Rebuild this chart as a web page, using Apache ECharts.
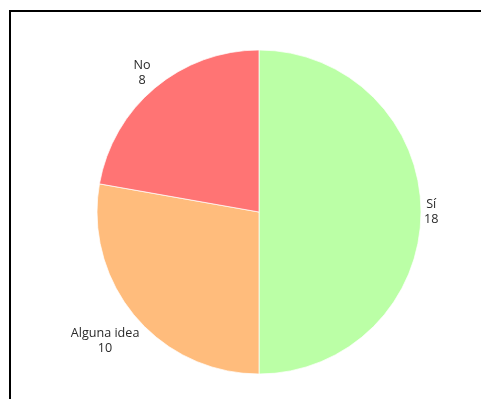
<!DOCTYPE html>
<html>
<head>
<meta charset="utf-8">
<script src="https://cdn.jsdelivr.net/npm/echarts@6/dist/echarts.min.js"></script>
<style>
  html, body { margin: 0; padding: 0; background: #fff; overflow: hidden; }
  #frame {
    position: absolute; left: 9px; top: 10px;
    width: 520px; height: 440px;
    border: 2px solid #000; box-sizing: border-box;
  }
  #chart { position: absolute; left: 0; top: 0; width: 100%; height: 100%; }
</style>
</head>
<body>
<div id="frame"><div id="chart"></div></div>
<script>
// Answers and how many people gave each one
const categories = ['Sí', 'Alguna idea', 'No'];
const counts = [18, 10, 8];
const colors = ['#bbffa6', '#ffbc7c', '#ff7474'];

const pieCenter = [248, 200];
const pieRadius = 162;
const labelGap = 3;

const total = counts.reduce((a, b) => a + b, 0);
// mid angle of each slice, clockwise from 12 o'clock
const midAngles = [];
let acc = 0;
counts.forEach(v => {
  midAngles.push((acc + v / 2) / total * 2 * Math.PI);
  acc += v;
});

const chart = echarts.init(document.getElementById('chart'), null, { renderer: 'canvas' });
chart.setOption({
  animation: false,
  series: [{
    type: 'pie',
    center: pieCenter,
    radius: pieRadius,
    startAngle: 90,
    clockwise: true,
    data: categories.map((name, i) => ({
      name: name,
      value: counts[i],
      itemStyle: { color: colors[i] }
    })),
    itemStyle: { borderColor: 'rgba(255,255,255,0.7)', borderWidth: 1 },
    label: {
      show: true,
      position: 'inside',
      formatter: '{b}\n{c}',
      fontFamily: 'Open Sans',
      fontSize: 12.6,
      lineHeight: 15,
      color: '#2a2a2a',
      align: 'center'
    },
    labelLine: { show: false },
    emphasis: { disabled: true },
    labelLayout: function (params) {
      // push each label outward along its slice's bisector until its box clears the rim
      const a = midAngles[params.dataIndex];
      const ux = Math.sin(a), uy = -Math.cos(a);
      const w = params.labelRect.width, h = params.labelRect.height;
      const d = pieRadius + labelGap + Math.abs(ux) * w / 2 + Math.abs(uy) * h / 2;
      return {
        x: pieCenter[0] + ux * d,
        y: pieCenter[1] + uy * d,
        align: 'center',
        verticalAlign: 'middle'
      };
    }
  }]
});
</script>
</body>
</html>
